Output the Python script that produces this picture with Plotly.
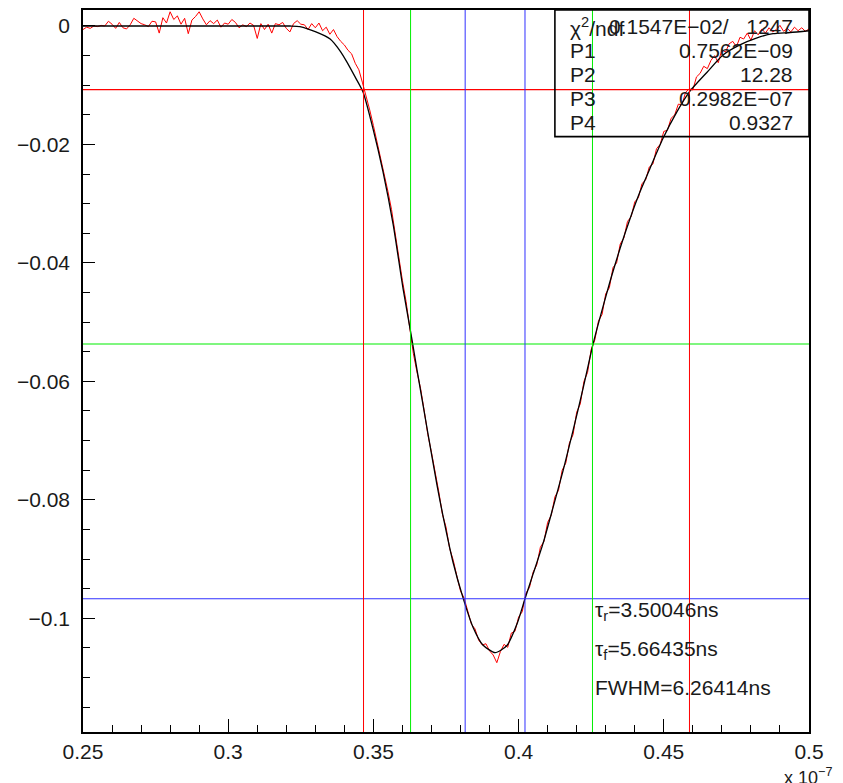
import plotly.graph_objects as go

# ---------------- data (time in units of 1e-7 s, amplitude in V) ----------------
data_t = [0.25 + 0.00125 * i for i in range(201)]
data_v = [
    -0.0006, -0.0002, -0.0004, 0.0000, -0.0001, 0.0001, 0.0000, 0.0008, 0.0003, -0.0004,
    0.0006, -0.0003, -0.0005, 0.0002, 0.0013, 0.0009, 0.0004, 0.0002, -0.0001, 0.0008,
    0.0007, -0.0012, 0.0014, 0.0005, 0.0024, 0.0011, 0.0017, 0.0003, 0.0013, -0.0013,
    0.0010, 0.0016, 0.0024, 0.0012, 0.0002, 0.0009, 0.0004, 0.0010, -0.0002, 0.0005,
    0.0003, 0.0011, 0.0006, -0.0003, 0.0002, -0.0001, 0.0005, 0.0001, -0.0021, 0.0004,
    -0.0006, 0.0003, -0.0012, 0.0004, 0.0002, 0.0006, -0.0004, -0.0010, 0.0004, 0.0009,
    0.0003, 0.0002, -0.0006, 0.0004, -0.0003, 0.0005, -0.0008, -0.0002, -0.0014, -0.0006,
    -0.0018, -0.0026, -0.0032, -0.0041, -0.0047, -0.0063, -0.0074, -0.0096, -0.0118, -0.0142,
    -0.0168, -0.0195, -0.0225, -0.0248, -0.0279, -0.0310, -0.0352, -0.0388, -0.0430, -0.0465,
    -0.0508, -0.0553, -0.0584, -0.0612, -0.0650, -0.0690, -0.0720, -0.0752, -0.0786, -0.0824,
    -0.0846, -0.0882, -0.0902, -0.0929, -0.0954, -0.0966, -0.0988, -0.1010, -0.1018, -0.1037,
    -0.1045, -0.1043, -0.1055, -0.1062, -0.1075, -0.1056, -0.1044, -0.1049, -0.1025, -0.1022,
    -0.0998, -0.0989, -0.0958, -0.0948, -0.0922, -0.0910, -0.0880, -0.0870, -0.0838, -0.0826,
    -0.0795, -0.0784, -0.0750, -0.0738, -0.0704, -0.0690, -0.0652, -0.0638, -0.0600, -0.0585,
    -0.0546, -0.0530, -0.0498, -0.0487, -0.0452, -0.0442, -0.0408, -0.0400, -0.0368, -0.0358,
    -0.0330, -0.0322, -0.0297, -0.0290, -0.0266, -0.0260, -0.0238, -0.0233, -0.0207, -0.0200,
    -0.0178, -0.0176, -0.0156, -0.0150, -0.0132, -0.0133, -0.0112, -0.0106, -0.0108, -0.0086,
    -0.0080, -0.0068, -0.0072, -0.0058, -0.0050, -0.0062, -0.0040, -0.0044, -0.0030, -0.0026,
    -0.0035, -0.0019, -0.0022, -0.0012, -0.0024, -0.0008, -0.0015, -0.0005, -0.0012, -0.0003,
    -0.0010, -0.0006, 0.0001, -0.0009, -0.0004, -0.0010, -0.0002, -0.0008, -0.0003, -0.0009,
    -0.0005,
]

fit_t = [0.25, 0.3213, 0.3247, 0.3302, 0.3351, 0.3388, 0.3409, 0.3437, 0.3464, 0.3499,
         0.3533, 0.3568, 0.3602, 0.3633, 0.3650, 0.3685, 0.3719, 0.3740, 0.3774, 0.3809,
         0.3843, 0.3877, 0.3919, 0.3960, 0.3995, 0.4022, 0.4050, 0.4084, 0.4118, 0.4153,
         0.4187, 0.4222, 0.4253, 0.4270, 0.4315, 0.4349, 0.4384, 0.4418, 0.4452, 0.4497,
         0.4545, 0.4590, 0.4649, 0.4704, 0.4762, 0.4821, 0.4876, 0.4935, 0.5]
fit_v = [0.0, 0.0, -0.0001, -0.0010, -0.0022, -0.0044, -0.0061, -0.0086, -0.0111, -0.0174,
         -0.0246, -0.0335, -0.0443, -0.0530, -0.0580, -0.0680, -0.0775, -0.0828, -0.0905, -0.0966,
         -0.1015, -0.1045, -0.1058, -0.1046, -0.1009, -0.0967, -0.0925, -0.0874, -0.0814, -0.0751,
         -0.0684, -0.0612, -0.0544, -0.0511, -0.0431, -0.0376, -0.0325, -0.0280, -0.0241, -0.0190,
         -0.0145, -0.0110, -0.0078, -0.0049, -0.0032, -0.0020, -0.0013, -0.0011, -0.0008]

# threshold levels (10%, 50%, 90%) and crossing times
level_10 = -0.01074
level_50 = -0.0537
level_90 = -0.0967
t_rise = [0.3466, 0.3816]      # 10% and 90% on leading edge (red, blue)
t_fall = [0.4022, 0.45884]     # 90% and 10% on trailing edge (blue, red)
t_half = [0.3628, 0.42544]     # 50% crossings (green)

x_tick_vals = [0.25, 0.3, 0.35, 0.4, 0.45, 0.5]
x_tick_text = ["0.25", "0.3", "0.35", "0.4", "0.45", "0.5"]
y_tick_vals = [0, -0.02, -0.04, -0.06, -0.08, -0.1]
y_tick_text = ["0", "\u22120.02", "\u22120.04", "\u22120.06", "\u22120.08", "\u22120.1"]

stat_labels = ["\u03c7<sup>2</sup>/ndf", "P1", "P2", "P3", "P4"]
stat_values = ["0.1547E\u221202/\u00a0\u00a0\u00a01247", "0.7562E\u221209", "12.28",
               "0.2982E\u221207", "0.9327"]
result_lines = ["\u03c4<sub>r</sub>=3.50046ns", "\u03c4<sub>f</sub>=5.66435ns", "FWHM=6.26414ns"]

FONT = "Liberation Sans"
FS = 21
TXT = "#1a1a1a"

fig = go.Figure()
fig.add_trace(go.Scatter(x=data_t, y=data_v, mode="lines",
                         line=dict(color="#ff0000", width=1), showlegend=False))
fig.add_trace(go.Scatter(x=fit_t, y=fit_v, mode="lines",
                         line=dict(color="black", width=1.3, shape="spline", smoothing=0.6),
                         showlegend=False))

# horizontal level lines
for lv, col in [(level_10, "#ff0000"), (level_50, "#00ee00"), (level_90, "#3030ff")]:
    fig.add_shape(type="line", xref="paper", x0=0, x1=1, yref="y", y0=lv, y1=lv,
                  line=dict(color=col, width=1.1))
# vertical crossing lines
for tv, col in [(t_rise[0], "#ff0000"), (t_fall[1], "#ff0000"),
                (t_half[0], "#00ee00"), (t_half[1], "#00ee00"),
                (t_rise[1], "#3030ff"), (t_fall[0], "#3030ff")]:
    fig.add_shape(type="line", yref="paper", y0=0, y1=1, xref="x", x0=tv, x1=tv,
                  line=dict(color=col, width=1))

# stats box
fig.add_shape(type="rect", xref="paper", yref="paper", x0=0.650, x1=1.0, y0=0.8246, y1=1.0,
              line=dict(color="black", width=1.6), fillcolor="rgba(0,0,0,0)")
row_y = [0.9765, 0.9434, 0.9102, 0.8771, 0.8439]
for lab, val, yy in zip(stat_labels, stat_values, row_y):
    fig.add_annotation(xref="paper", yref="paper", x=0.668, y=yy, text=lab, showarrow=False,
                       xanchor="left", yanchor="middle", font=dict(family=FONT, size=FS, color=TXT))
    fig.add_annotation(xref="paper", yref="paper", x=0.981, y=yy, text=val, showarrow=False,
                       xanchor="right", yanchor="middle", font=dict(family=FONT, size=FS, color=TXT))

res_y = [0.1671, 0.1133, 0.0622]
for txt, yy in zip(result_lines, res_y):
    fig.add_annotation(xref="paper", yref="paper", x=0.7025, y=yy, text=txt, showarrow=False,
                       xanchor="left", yanchor="middle", font=dict(family=FONT, size=FS, color=TXT))

fig.add_annotation(xref="paper", yref="paper", x=0.9628, y=-0.062, text="x 10<sup>\u22127</sup>",
                   showarrow=False, xanchor="left", yanchor="middle",
                   font=dict(family=FONT, size=18, color=TXT))

# the page body adds an 8 px offset, so the figure is sized to fit the 843x783 window
fig.update_layout(
    width=835, height=775,
    margin=dict(l=75, r=34, t=0, b=51),
    paper_bgcolor="white", plot_bgcolor="white",
    font=dict(family=FONT, size=FS, color=TXT),
    xaxis=dict(range=[0.25, 0.5], showgrid=False, zeroline=False,
               showline=True, linecolor="black", linewidth=1.5, mirror=True,
               ticks="inside", ticklen=13, tickwidth=1, tickcolor="black",
               tickmode="array", tickvals=x_tick_vals, ticktext=x_tick_text,
               tickfont=dict(family=FONT, size=FS, color=TXT),
               minor=dict(ticks="inside", ticklen=7, tickwidth=1, tickcolor="black",
                          dtick=0.01, tick0=0.25, showgrid=False)),
    yaxis=dict(range=[-0.1192, 0.0027], showgrid=False, zeroline=False,
               showline=True, linecolor="black", linewidth=1.5, mirror=True,
               ticks="inside", ticklen=12, tickwidth=1, tickcolor="black",
               tickmode="array", tickvals=y_tick_vals, ticktext=y_tick_text,
               tickfont=dict(family=FONT, size=FS, color=TXT),
               ticklabelstandoff=7,
               minor=dict(ticks="inside", ticklen=7, tickwidth=1, tickcolor="black",
                          dtick=0.005, tick0=0, showgrid=False)),
)

fig.write_html("out.html")
